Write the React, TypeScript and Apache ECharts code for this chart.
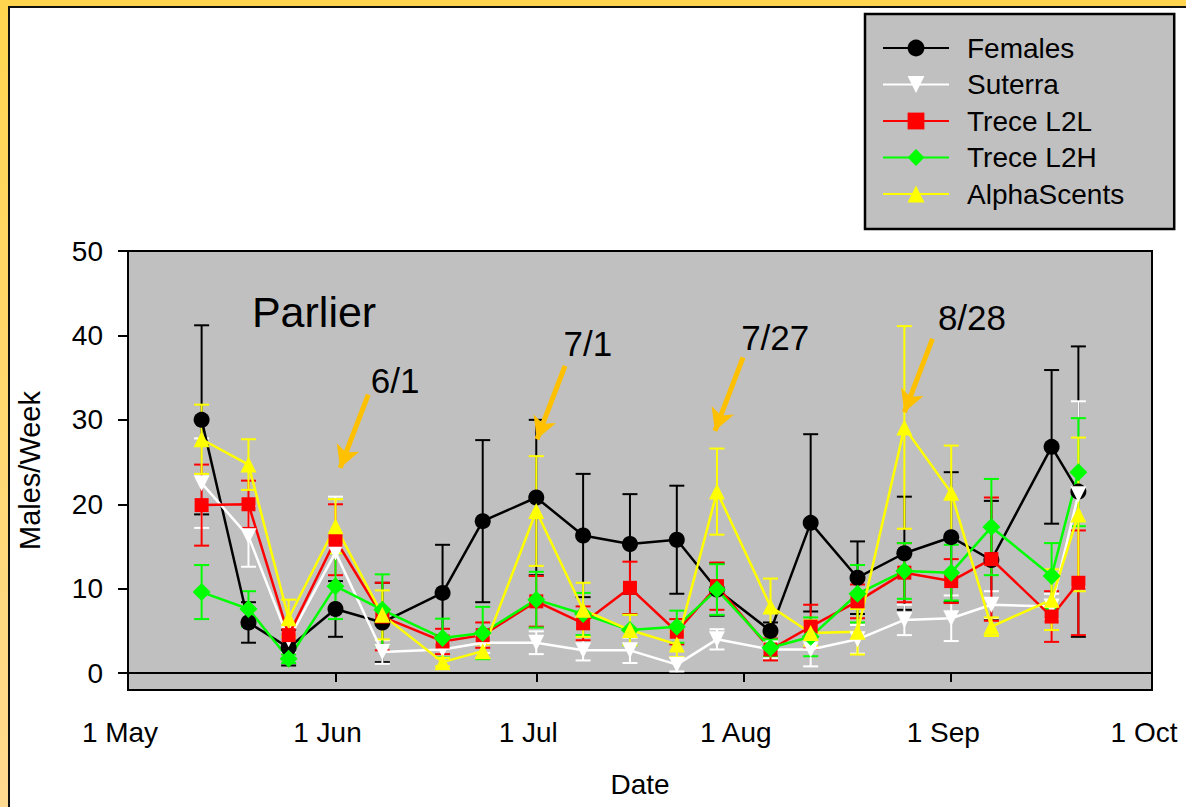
import React, { useEffect, useRef } from "react";
import * as echarts from "echarts";

// ---- data ----
const sampleDates = ["5/12", "5/19", "5/25", "6/1", "6/8", "6/17", "6/23", "7/1", "7/8", "7/15", "7/22", "7/28", "8/5", "8/11", "8/18", "8/25", "9/1", "9/7", "9/16", "9/20"];
const monthStartDay: Record<number, number> = { 5: 0, 6: 31, 7: 61, 8: 92, 9: 123, 10: 153 };
const tickLabels = ["1 May", "1 Jun", "1 Jul", "1 Aug", "1 Sep", "1 Oct"];
const tickMonths = [5, 6, 7, 8, 9, 10];
const yTicks = [0, 10, 20, 30, 40, 50];

const seriesNames = ["Females", "Suterra", "Trece L2L", "Trece L2H", "AlphaScents"];
const females = [30, 6, 3, 7.6, 6, 9.5, 18, 20.8, 16.3, 15.3, 15.8, 9.9, 5, 17.8, 11.3, 14.2, 16.1, 13.4, 26.8, 21.5];
const femalesErr = [11.2, 2.4, 2.1, 3.3, 4.7, 5.7, 9.6, 9.2, 7.3, 5.9, 6.4, 3.1, 1, 10.5, 4.3, 6.7, 7.7, 7, 9.1, 17.2];
const suterra = [22.5, 16.2, 4, 14.3, 2.5, 2.8, 3.6, 3.6, 2.7, 2.7, 1.0, 4.0, 2.8, 2.8, 4.0, 6.3, 6.5, 8.1, 7.9, 21.2];
const suterraErr = [5.3, 3.6, 1.5, 6.6, 1.4, 1, 1.2, 1.35, 1.2, 1.5, 0.8, 1.2, 1, 2, 1.7, 1.8, 2.7, 1.6, 1.5, 11];
const l2l = [19.9, 20.0, 4.5, 15.8, 6.7, 3.75, 4.5, 8.5, 5.9, 10.1, 4.9, 10.3, 2.8, 5.5, 8.5, 11.9, 10.9, 13.5, 6.7, 10.7];
const l2lErr = [4.8, 2.8, 1.5, 4.2, 4, 1.5, 1.5, 3, 2, 3.1, 1.5, 2.8, 1.3, 2.6, 2, 3.5, 2.6, 7.3, 3, 6.2];
const l2h = [9.6, 7.6, 1.7, 10.3, 7.5, 4.15, 4.75, 8.7, 7.0, 5.1, 5.5, 9.9, 3.0, 4.3, 9.4, 12.1, 11.9, 17.3, 11.5, 23.8];
const l2hErr = [3.2, 2.1, 0.5, 3.9, 4.2, 2.3, 3.1, 3.3, 2.5, 1.8, 1.9, 3, 1, 2.3, 3.4, 3.3, 3.3, 5.7, 3.9, 6.4];
const alpha = [27.7, 24.7, 6.5, 17.4, 6.9, 1.3, 2.6, 19.2, 7.5, 5.1, 3.4, 21.5, 7.9, 4.75, 4.9, 29.1, 21.35, 5.5, 8.7, 18.8];
const alphaErr = [4.1, 3, 2.2, 3.2, 2.9, 0.5, 0.8, 6.5, 3.2, 1.8, 1.5, 5.1, 3.3, 1.5, 2.7, 12, 5.6, 1.1, 3.6, 9.1];

const siteLabel = "Parlier";
const siteLabelPos = [27.8, 42.8];
const annotationLabels = ["6/1", "7/1", "7/27", "8/28"];
const annotationTextPos = [[39.9, 34.7], [68.7, 39.0], [96.7, 39.8], [126.1, 42.1]];
const arrowFrom = [[35.9, 33.0], [65.3, 36.4], [91.9, 37.4], [120.2, 39.6]];
const arrowTo = [[31.7, 24.3], [61.1, 27.7], [87.7, 28.7], [116.0, 30.9]];

// ---- helpers ----
const dayOf = (s: string) => {
  const [m, d] = s.split("/").map(Number);
  return monthStartDay[m] + d - 1;
};
const xDays = sampleDates.map(dayOf);
const tickDays = tickMonths.map((m) => monthStartDay[m]);

const FONT = "'Liberation Sans', Arial, sans-serif";

function errorRenderer(color: string) {
  return (params: any, api: any) => {
    const x = api.value(0);
    const lo = api.coord([x, api.value(1)]);
    const hi = api.coord([x, api.value(2)]);
    const hw = 7.5;
    const style = { stroke: color, lineWidth: 2 };
    return {
      type: "group",
      children: [
        { type: "line", shape: { x1: lo[0], y1: lo[1], x2: hi[0], y2: hi[1] }, style },
        { type: "line", shape: { x1: hi[0] - hw, y1: hi[1], x2: hi[0] + hw, y2: hi[1] }, style },
        { type: "line", shape: { x1: lo[0] - hw, y1: lo[1], x2: lo[0] + hw, y2: lo[1] }, style },
      ],
    };
  };
}

export default function App() {
  const ref = useRef<HTMLDivElement>(null);
  useEffect(() => {
    if (!ref.current) return;
    const chart = echarts.init(ref.current, null, { renderer: "svg" });

    const specs = [
      { name: seriesNames[0], v: females, e: femalesErr, color: "#000000", symbol: "circle", size: 16, rotate: 0 },
      { name: seriesNames[1], v: suterra, e: suterraErr, color: "#FFFFFF", symbol: "triangle", size: 16, rotate: 180 },
      { name: seriesNames[2], v: l2l, e: l2lErr, color: "#FF0000", symbol: "rect", size: 14, rotate: 0 },
      { name: seriesNames[3], v: l2h, e: l2hErr, color: "#00FF00", symbol: "diamond", size: 18, rotate: 0 },
      { name: seriesNames[4], v: alpha, e: alphaErr, color: "#FFFF00", symbol: "triangle", size: 16, rotate: 0 },
    ];

    const series: any[] = [];
    specs.forEach((s) => {
      series.push({
        type: "custom",
        name: s.name + " SE",
        renderItem: errorRenderer(s.color),
        data: xDays.map((d, i) => [d, s.v[i] - s.e[i], s.v[i] + s.e[i]]),
        encode: { x: 0, y: [1, 2] },
        silent: true,
      });
      series.push({
        type: "line",
        name: s.name,
        data: xDays.map((d, i) => [d, s.v[i]]),
        symbol: s.symbol,
        symbolSize: s.size,
        symbolRotate: s.rotate,
        showAllSymbol: true,
        lineStyle: { color: s.color, width: 2.5 },
        itemStyle: { color: s.color, borderWidth: 0 },
        color: s.color,
      });
    });

    series.push({
      type: "scatter",
      name: "annotations",
      data: [],
      z: 10,
      silent: true,
      markLine: {
        silent: true,
        symbol: ["none", "arrow"],
        symbolSize: [18, 22],
        label: { show: false },
        lineStyle: { color: "#FFC000", width: 5, type: "solid" },
        data: arrowFrom.map((f, i) => [
          { coord: f },
          { coord: arrowTo[i] },
        ]),
      },
      markPoint: {
        silent: true,
        symbol: "circle",
        symbolSize: 0,
        label: { show: true, position: "inside", color: "#000", fontFamily: FONT, formatter: "{b}" },
        data: [
          ...annotationLabels.map((t, i) => ({ name: t, coord: annotationTextPos[i], label: { fontSize: 35 } })),
          { name: siteLabel, coord: siteLabelPos, label: { fontSize: 43 } },
        ],
      },
    });

    chart.setOption({
      animation: false,
      backgroundColor: "#FFFFFF",
      textStyle: { fontFamily: FONT },
      grid: {
        left: 128,
        right: 34,
        top: 251,
        bottom: 117,
        show: true,
        backgroundColor: "#C0C0C0",
        borderColor: "#000000",
        borderWidth: 2,
      },
      legend: {
        data: seriesNames,
        orient: "vertical",
        left: 865,
        top: 14,
        backgroundColor: "#C0C0C0",
        borderColor: "#000000",
        borderWidth: 2.5,
        padding: [20, 50, 21, 17],
        itemWidth: 66,
        itemHeight: 21,
        itemGap: 8.5,
        textStyle: { fontSize: 28, color: "#000", fontFamily: FONT, padding: [0, 0, 0, 13] },
        selectedMode: false,
      },
      xAxis: {
        type: "value",
        min: 0,
        max: 153,
        name: "Date",
        nameLocation: "middle",
        nameGap: 80,
        nameTextStyle: { fontSize: 28, color: "#000", fontFamily: FONT },
        axisLine: { show: true, lineStyle: { color: "#000", width: 2 } },
        axisTick: { show: true, inside: false, length: 9, customValues: tickDays, lineStyle: { color: "#000", width: 2 } },
        axisLabel: {
          show: true,
          customValues: tickDays,
          margin: 28,
          fontSize: 28,
          color: "#000",
          fontFamily: FONT,
          padding: [0, 16, 0, 0],
          formatter: (v: number) => tickLabels[tickDays.indexOf(Math.round(v))] ?? "",
        },
        splitLine: { show: false },
      },
      yAxis: {
        type: "value",
        min: -2,
        max: 50,
        name: "Males/Week",
        nameLocation: "middle",
        nameGap: 84,
        nameTextStyle: { fontSize: 29, color: "#000", fontFamily: FONT },
        axisLine: { show: true, lineStyle: { color: "#000", width: 2 } },
        axisTick: { show: true, inside: false, length: 10, customValues: yTicks, lineStyle: { color: "#000", width: 2 } },
        axisLabel: { show: true, customValues: yTicks, margin: 25, fontSize: 28, color: "#000", fontFamily: FONT },
        splitLine: { show: false },
      },
      graphic: [
        {
          type: "rect",
          silent: true,
          z: 100,
          shape: { x: 0, y: 0, width: 8, height: 807 },
          style: {
            fill: new echarts.graphic.LinearGradient(0, 0, 0, 1, [
              { offset: 0, color: "#FFD54F" },
              { offset: 1, color: "#FFDA90" },
            ]),
          },
        },
        { type: "rect", silent: true, z: 100, shape: { x: 0, y: 0, width: 1186, height: 6 }, style: { fill: "#FFD54F" } },
        { type: "rect", silent: true, z: 100, shape: { x: 8, y: 6, width: 2, height: 801 }, style: { fill: "#111111" } },
        { type: "rect", silent: true, z: 100, shape: { x: 8, y: 6, width: 1178, height: 2 }, style: { fill: "#111111" } },
      ],
      series,
    });
    return () => chart.dispose();
  }, []);
  return (
    <div
      ref={ref}
      style={{ position: "absolute", left: 0, top: 0, width: 1186, height: 807, background: "#fff" }}
    />
  );
}
